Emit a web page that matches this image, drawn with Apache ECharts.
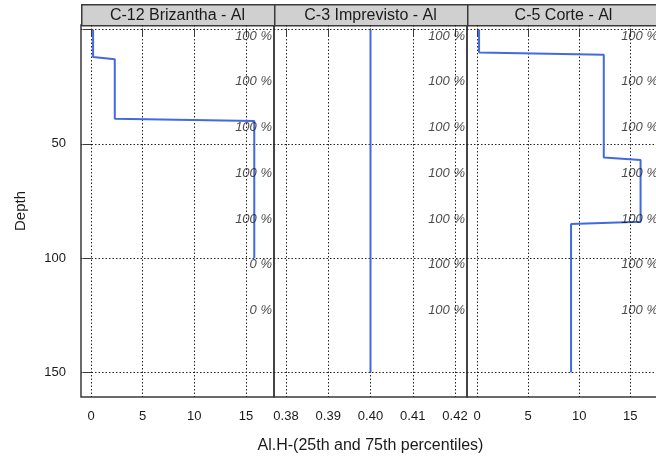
<!DOCTYPE html>
<html>
<head>
<meta charset="utf-8">
<script src="https://cdn.jsdelivr.net/npm/echarts@6/dist/echarts.min.js"></script>
<style>
    html, body {margin: 0; padding: 0; background: #fff;}
    #chart {width: 656px; height: 461px;}
</style>
</head>
<body>
<div id="chart"></div>
<script>
// panel titles
var panels = ['C-12 Brizantha - Al', 'C-3 Imprevisto - Al', 'C-5 Corte - Al'];

// profiles: depth / value
var c12Depth = [0, 12, 13, 39, 40, 100];
var c12Value = [0.2, 0.2, 2.3, 2.3, 15.8, 15.8];
var c3Depth = [0, 150];
var c3Value = [0.40, 0.40];
var c5Depth = [0, 10, 11, 56, 57, 84, 85, 150];
var c5Value = [0.2, 0.2, 12.4, 12.4, 16.0, 16.0, 9.2, 9.2];

// percent labels along the right side of each panel
var pctDepth = [0, 20, 40, 60, 80, 100, 120];
var c12Pct = ['100 %', '100 %', '100 %', '100 %', '100 %', '0 %', '0 %'];
var c3Pct = ['100 %', '100 %', '100 %', '100 %', '100 %', '100 %', '100 %'];
var c5Pct = ['100 %', '100 %', '100 %', '100 %', '100 %', '100 %', '100 %'];

// ticks
var depthTicks = [0, 50, 100, 150];
var depthLabels = [50, 100, 150];
var alTicks = [0, 5, 10, 15];
var c3Ticks = [0.38, 0.39, 0.40, 0.41, 0.42];

var ranges = [[-0.97, 17.71], [0.37716, 0.42284], [-0.98, 17.9]];
var lefts = [81, 274, 467];
var W = 193, TOP = 25, H = 372;
var font = 'Liberation Sans, Arial, sans-serif';
var frame = '#3a3a3a';
var blue = '#4169E1';

function pairs(xs, ys) {
    return xs.map(function(x, i) { return [x, ys[i]]; });
}

var grids = [], xAxes = [], yAxes = [], series = [], graphics = [];
var profiles = [[c12Value, c12Depth], [c3Value, c3Depth], [c5Value, c5Depth]];
var pcts = [c12Pct, c3Pct, c5Pct];
var xTicks = [alTicks, c3Ticks, alTicks];

lefts.forEach(function(left, i) {
    grids.push({
        left: left, top: TOP, width: W, height: H,
        show: true, borderColor: frame, borderWidth: 1.5,
        backgroundColor: 'transparent',
        outerBoundsMode: 'none'
    });
    xAxes.push({
        type: 'value', gridIndex: i,
        min: ranges[i][0], max: ranges[i][1],
        axisLine: {show: false},
        axisTick: {show: true, length: 7, customValues: xTicks[i], lineStyle: {color: frame}},
        axisLabel: {
            customValues: xTicks[i], margin: 13, color: '#1a1a1a', fontSize: 13, fontFamily: font,
            formatter: i === 1 ? function(v) { return v.toFixed(2); } : '{value}'
        },
        splitLine: {show: true, lineStyle: {color: '#222', type: [1.5, 2], width: 1}},
        name: i === 1 ? 'Al.H-(25th and 75th percentiles)' : '',
        nameLocation: 'middle', nameGap: 41,
        nameTextStyle: {fontSize: 16, color: '#1a1a1a', fontFamily: font}
    });
    yAxes.push({
        type: 'value', gridIndex: i, inverse: true,
        min: -2, max: 160.7,
        axisLine: {show: false},
        axisTick: {show: i === 0, length: 8, customValues: depthTicks, lineStyle: {color: frame}},
        axisLabel: {show: i === 0, customValues: depthLabels, margin: 15, color: '#1a1a1a', fontSize: 13, fontFamily: font},
        splitLine: {show: true, lineStyle: {color: '#222', type: [1.5, 2], width: 1}},
        name: i === 0 ? 'Depth' : '',
        nameLocation: 'middle', nameGap: 53,
        nameTextStyle: {fontSize: 15, color: '#1a1a1a', fontFamily: font}
    });
    series.push({
        type: 'line', xAxisIndex: i, yAxisIndex: i,
        data: pairs(profiles[i][0], profiles[i][1]),
        showSymbol: false, symbol: 'none',
        lineStyle: {color: blue, width: 2},
        silent: true, z: 3
    });
    series.push({
        type: 'scatter', xAxisIndex: i, yAxisIndex: i,
        data: pctDepth.map(function(d) { return [ranges[i][1], d]; }),
        symbolSize: 0, silent: true, z: 4, clip: false,
        label: {
            show: true, position: 'left', distance: 2,
            verticalAlign: 'top', offset: [0, 0],
            fontStyle: 'italic', fontSize: 13, color: '#1a1a1a', fontFamily: font,
            formatter: (function(p) { return function(params) { return p[params.dataIndex]; }; })(pcts[i])
        }
    });
    // strip
    graphics.push({
        type: 'rect', left: left, top: 4,
        shape: {width: W, height: TOP - 4},
        style: {fill: '#d0d0d0', stroke: frame, lineWidth: 1.5}
    });
    graphics.push({
        type: 'text', x: left + W / 2, y: 4 + (TOP - 4) / 2 + 1,
        style: {text: panels[i], fill: '#1a1a1a', fontSize: 16, fontFamily: font, align: 'center', verticalAlign: 'middle'}
    });
});

var chart = echarts.init(document.getElementById('chart'));
chart.setOption({
    animation: false,
    grid: grids,
    xAxis: xAxes,
    yAxis: yAxes,
    series: series,
    graphic: graphics
});
</script>
</body>
</html>
